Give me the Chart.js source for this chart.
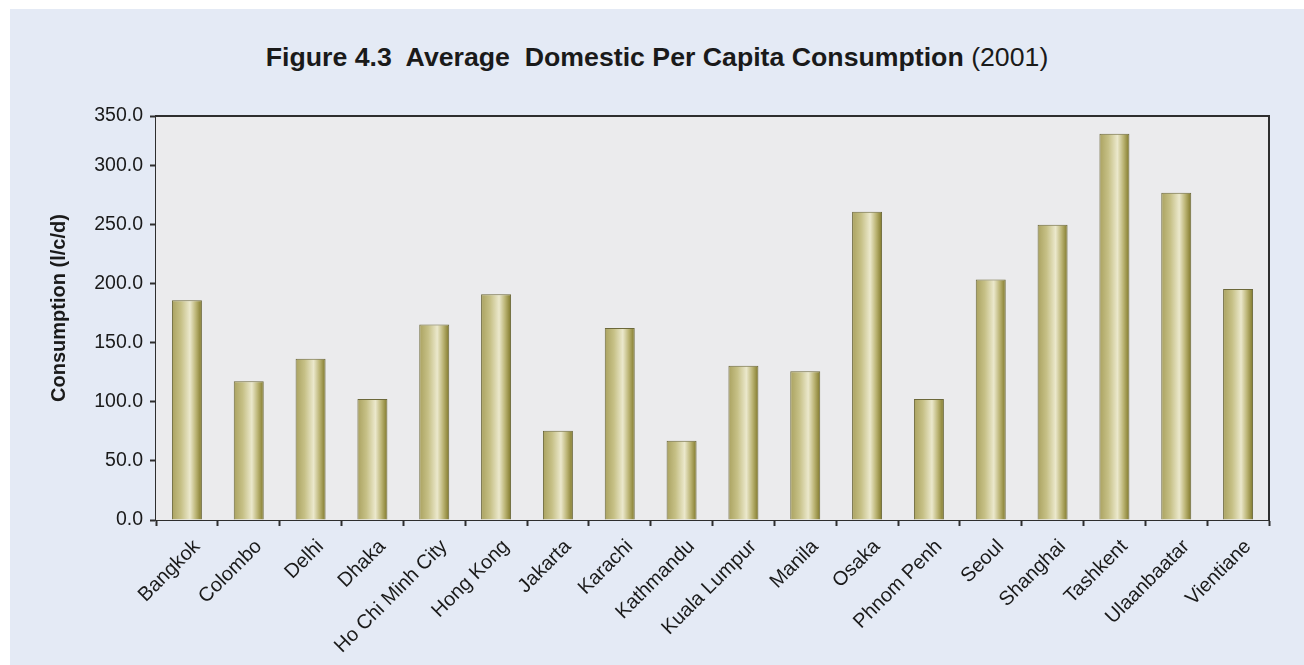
<!DOCTYPE html>
<html>
<head>
<meta charset="utf-8">
<script src="https://cdn.jsdelivr.net/npm/chart.js@4.4.1/dist/chart.umd.min.js"></script>
<style>
  html, body { margin: 0; padding: 0; background: #fff; }
  #panel {
    position: absolute; left: 10px; top: 9px; width: 1294px; height: 656px;
    background: #e4eaf5;
  }
  #title {
    position: absolute; left: 0; top: 33px; width: 100%; text-align: center;
    font-family: "Liberation Sans", Arial, sans-serif; font-size: 26.7px; color: #1a1a1a;
    white-space: pre;
  }
  #title b { font-weight: bold; }
  #ytitle {
    position: absolute; left: 48px; top: 299px; width: 300px; margin-left: -150px;
    margin-top: -12px; line-height: 24px; text-align: center;
    transform: rotate(-90deg);
    font-family: "Liberation Sans", Arial, sans-serif; font-size: 20px; font-weight: bold;
    color: #1a1a1a; white-space: nowrap;
  }
  #box { position: absolute; left: 0; top: 0; width: 1294px; height: 656px; }
</style>
</head>
<body>
<div id="panel">
  <div id="title"><b>Figure 4.3  Average  Domestic Per Capita Consumption</b> (2001)</div>
  <div id="box"><canvas id="myChart"></canvas></div>
  <div id="ytitle">Consumption (l/c/d)</div>
</div>
<script>
const cities = [
    'Bangkok', 'Colombo', 'Delhi', 'Dhaka', 'Ho Chi Minh City', 'Hong Kong',
    'Jakarta', 'Karachi', 'Kathmandu', 'Kuala Lumpur', 'Manila', 'Osaka',
    'Phnom Penh', 'Seoul', 'Shanghai', 'Tashkent', 'Ulaanbaatar', 'Vientiane'
];
const consumption = [
    186, 117.5, 136.5, 102.5, 165.5, 191,
    75.5, 162.5, 67, 130.5, 126, 261,
    102.5, 203.5, 250, 327, 277, 195.5
];
// the source axis stops short of 350 but still labels its top tick "350.0"
const yTickValues = [0, 50, 100, 150, 200, 250, 300, 342];
const yTickLabels = ['0.0', '50.0', '100.0', '150.0', '200.0', '250.0', '300.0', '350.0'];

const barPct = 0.485;
const font = "'Liberation Sans', Arial, sans-serif";

function barFill(ctx) {
    const chart = ctx.chart;
    const xs = chart.scales.x;
    if (!xs || !chart.chartArea) return '#c8c088';
    const c = xs.getPixelForValue(ctx.dataIndex);
    const half = xs.width / cities.length * barPct / 2;
    const g = chart.ctx.createLinearGradient(c - half, 0, c + half, 0);
    g.addColorStop(0, '#aaa260');
    g.addColorStop(0.3, '#c6c086');
    g.addColorStop(0.6, '#ebe8cc');
    g.addColorStop(0.8, '#bbb474');
    g.addColorStop(1, '#807829');
    return g;
}

const plotFrame = {
    id: 'plotFrame',
    beforeDatasetsDraw(chart) {
        const a = chart.chartArea, c = chart.ctx;
        c.save();
        c.fillStyle = '#ebebed';
        c.fillRect(a.left, a.top, a.right - a.left, a.bottom - a.top);
        c.restore();
    },
    afterDatasetsDraw(chart) {
        const a = chart.chartArea, c = chart.ctx;
        c.save();
        c.strokeStyle = '#2e2e2e';
        c.lineWidth = 2;
        c.beginPath();
        c.moveTo(a.left, a.top);
        c.lineTo(a.right, a.top);
        c.lineTo(a.right, a.bottom);
        c.stroke();
        c.restore();
    }
};

const data = {
    labels: cities,
    datasets: [{
        label: 'Consumption',
        data: consumption,
        backgroundColor: barFill,
        borderColor: '#6c683a',
        borderWidth: {top: 1, left: 1, right: 1, bottom: 0},
        borderSkipped: 'bottom',
        categoryPercentage: 1,
        barPercentage: barPct
    }]
};

const config = {
    type: 'bar',
    data: data,
    plugins: [plotFrame],
    options: {
        responsive: false,
        animation: false,
        layout: {
            padding: {top: 107, right: 35, left: 0, bottom: 0}
        },
        plugins: {
            legend: {display: false},
            tooltip: {enabled: false}
        },
        scales: {
            x: {
                grid: {
                    offset: true,
                    drawOnChartArea: false,
                    tickLength: 6,
                    tickWidth: 2,
                    color: '#2e2e2e'
                },
                border: {color: '#2e2e2e', width: 2},
                ticks: {
                    autoSkip: false,
                    minRotation: 45,
                    maxRotation: 45,
                    padding: 9,
                    labelOffset: 10,
                    color: '#1a1a1a',
                    font: {family: font, size: 20}
                },
                afterFit(scale) { scale.height = 145; }
            },
            y: {
                min: 0,
                max: 342,
                grid: {
                    drawOnChartArea: false,
                    tickLength: 6,
                    tickWidth: 2,
                    color: '#2e2e2e'
                },
                border: {color: '#2e2e2e', width: 2},
                afterBuildTicks(scale) {
                    scale.ticks = yTickValues.map(v => ({value: v}));
                },
                ticks: {
                    padding: 7,
                    color: '#1a1a1a',
                    font: {family: font, size: 19.5},
                    callback: (v) => yTickLabels[yTickValues.indexOf(v)]
                },
                afterFit(scale) { scale.width = 146; }
            }
        }
    }
};

Chart.defaults.color = '#1a1a1a';

const ctx = document.getElementById('myChart');
ctx.width = 1294;
ctx.height = 656;
const chart = new Chart(ctx, config);
</script>
</body>
</html>
